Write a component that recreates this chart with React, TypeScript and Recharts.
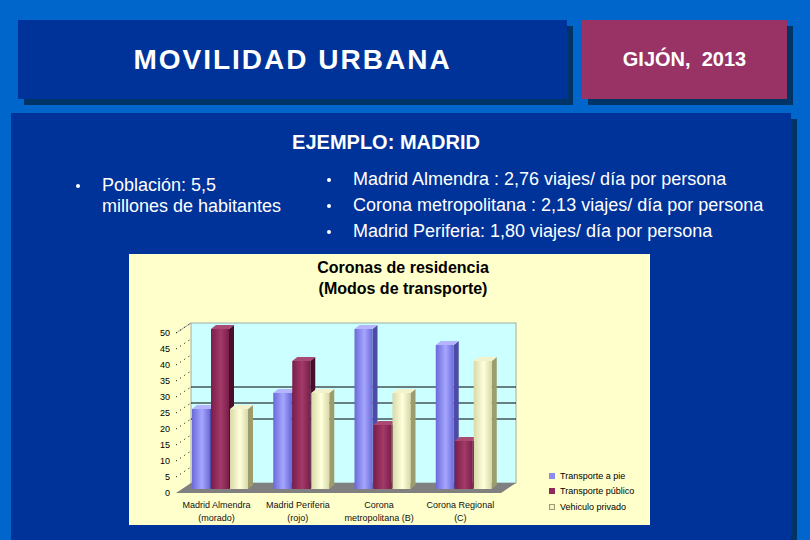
import React from 'react';
import { BarChart, Bar, XAxis, YAxis, ReferenceArea } from 'recharts';

const categories = ['Madrid Almendra', 'Madrid Periferia', 'Corona', 'Corona Regional'];
const categorySubLabels = ['(morado)', '(rojo)', 'metropolitana (B)', '(C)'];
const transportePie = [25, 30, 50, 45];
const transportePublico = [50, 40, 20, 15];
const vehiculoPrivado = [25, 30, 30, 40];
const yTicks = [0, 5, 10, 15, 20, 25, 30, 35, 40, 45, 50];
const backGridValues = [20, 25, 30];
const seriesNames = ['Transporte a pie', 'Transporte público', 'Vehiculo privado'];

const data = categories.map((c, i) => ({
  key: `${c}\n${categorySubLabels[i]}`,
  pie: transportePie[i],
  publico: transportePublico[i],
  privado: vehiculoPrivado[i],
}));

const FONT = '"Liberation Sans", Arial, Helvetica, sans-serif';
const DEPTH_X = 15;
const DEPTH_Y = 10;
const BAR_DX = 5;
const BAR_DY = 4;
const BAR_SHIFT_X = 3;
const BAR_SHIFT_Y = 4;

const seriesStyles = [
  { id: 'gPie', dark: '#6a6ad8', light: '#a6a6ff', side: '#4c4ca6', top: '#b4b4ff', legend: '#8c8cf0' },
  { id: 'gPub', dark: '#7a1e4a', light: '#a33a68', side: '#4a0d2a', top: '#a84a74', legend: '#8f2a58' },
  { id: 'gPri', dark: '#d8d8a8', light: '#ffffdc', side: '#9c9c6c', top: '#f2f2cc', legend: '#f4f4cc' },
];

const makeBarShape = (s: any) => (props: any) => {
  const { x, y, width, height } = props;
  if (height == null || height <= 0) return <g />;
  const X = x + BAR_SHIFT_X;
  const Y = y - BAR_SHIFT_Y;
  const w = width;
  const h = height;
  return (
    <g>
      <polygon
        points={`${X + w},${Y} ${X + w + BAR_DX},${Y - BAR_DY} ${X + w + BAR_DX},${Y + h - BAR_DY} ${X + w},${Y + h}`}
        fill={s.side}
      />
      <polygon
        points={`${X},${Y} ${X + BAR_DX},${Y - BAR_DY} ${X + w + BAR_DX},${Y - BAR_DY} ${X + w},${Y}`}
        fill={s.top}
      />
      <rect x={X} y={Y} width={w} height={h} fill={`url(#${s.id})`} />
    </g>
  );
};

const WallShape = (props: any) => {
  const { x, y, width, height } = props;
  const bx = x + DEPTH_X;
  const by = y - DEPTH_Y;
  const valToY = (v: number) => y + height - (v / 50) * height;
  return (
    <g>
      <rect x={bx} y={by} width={width} height={height} fill="#ccffff" stroke="#8a9a9a" strokeWidth={0.8} />
      <line x1={x} y1={y} x2={bx} y2={by} stroke="#8a9a9a" strokeWidth={0.8} />
      {backGridValues.map((v) => (
        <line key={v} x1={bx} x2={bx + width} y1={valToY(v) - DEPTH_Y} y2={valToY(v) - DEPTH_Y} stroke="#000" strokeWidth={1} />
      ))}
      {yTicks.filter((v) => v > 0).map((v) => (
        <line
          key={'d' + v}
          x1={x}
          y1={valToY(v)}
          x2={bx}
          y2={valToY(v) - DEPTH_Y}
          stroke="#000"
          strokeWidth={1}
          strokeDasharray="1 4"
        />
      ))}
      <polygon
        points={`${x},${y + height} ${x + width},${y + height} ${x + width + DEPTH_X},${y + height - DEPTH_Y} ${bx},${y + height - DEPTH_Y}`}
        fill="#808080"
      />
    </g>
  );
};

const XTick = (props: any) => {
  const { x, y, payload } = props;
  const lines = String(payload.value).split('\n');
  return (
    <g>
      {lines.map((l, i) => (
        <text key={i} x={x} y={y + 7 + i * 13} textAnchor="middle" fontSize={9} fill="#111" fontFamily={FONT}>
          {l}
        </text>
      ))}
    </g>
  );
};

const Bullet = ({ left, top }: { left: number; top: number }) => (
  <div
    style={{
      position: 'absolute', left, top, width: 4, height: 4, borderRadius: 2, background: '#fff',
    }}
  />
);

export default function App() {
  return (
    <div
      style={{
        position: 'absolute',
        left: 0,
        top: 0,
        width: 810,
        height: 540,
        background: '#0066cc',
        overflow: 'hidden',
        fontFamily: FONT,
      }}
    >
      {/* title box */}
      <div style={{ position: 'absolute', left: 24, top: 26, width: 549, height: 79, background: '#003366' }} />
      <div
        style={{
          position: 'absolute', left: 18, top: 20, width: 549, height: 79, background: '#003399',
          display: 'flex', alignItems: 'center', justifyContent: 'center',
          color: '#fff', fontWeight: 'bold', fontSize: 28, letterSpacing: 2,
        }}
      >
        MOVILIDAD URBANA
      </div>
      {/* pink box */}
      <div style={{ position: 'absolute', left: 588, top: 26, width: 205, height: 79, background: '#003366' }} />
      <div
        style={{
          position: 'absolute', left: 582, top: 20, width: 205, height: 79, background: '#993366',
          display: 'flex', alignItems: 'center', justifyContent: 'center',
          color: '#fff', fontWeight: 'bold', fontSize: 20, whiteSpace: 'pre',
        }}
      >
        {'GIJÓN,  2013'}
      </div>
      {/* main panel */}
      <div style={{ position: 'absolute', left: 17, top: 119, width: 780, height: 440, background: '#003366' }} />
      <div style={{ position: 'absolute', left: 11, top: 113, width: 780, height: 440, background: '#003399' }} />

      <div
        style={{
          position: 'absolute', left: 386, top: 131, transform: 'translateX(-50%)',
          color: '#fff', fontWeight: 'bold', fontSize: 20, lineHeight: '22px', whiteSpace: 'nowrap',
        }}
      >
        EJEMPLO: MADRID
      </div>

      {/* left bullet */}
      <Bullet left={76} top={184} />
      <div style={{ position: 'absolute', left: 102, top: 175, color: '#fff', fontSize: 18, lineHeight: '21px', whiteSpace: 'nowrap' }}>
        Población: 5,5
        <br />
        millones de habitantes
      </div>

      {/* right bullets */}
      {[
        'Madrid Almendra : 2,76 viajes/ día por persona',
        'Corona metropolitana : 2,13 viajes/ día por persona',
        'Madrid Periferia: 1,80 viajes/ día por persona',
      ].map((t, i) => (
        <React.Fragment key={i}>
          <Bullet left={327} top={178 + i * 26} />
          <div style={{ position: 'absolute', left: 353, top: 168 + i * 26, color: '#fff', fontSize: 18, lineHeight: '22px', whiteSpace: 'nowrap' }}>
            {t}
          </div>
        </React.Fragment>
      ))}

      {/* chart panel */}
      <div style={{ position: 'absolute', left: 129, top: 254, width: 521, height: 271, background: '#ffffcc' }}>
        <div
          style={{
            position: 'absolute', left: 0, top: 3, width: 548, textAlign: 'center',
            fontWeight: 'bold', fontSize: 16, lineHeight: '21px', color: '#000',
          }}
        >
          Coronas de residencia
          <br />
          (Modos de transporte)
        </div>
        <div style={{ position: 'absolute', left: 0, top: 0 }}>
          <BarChart
            width={521}
            height={271}
            data={data}
            margin={{ top: 79, right: 149, bottom: 2, left: 17 }}
            barSize={18}
            barGap={1}
          >
            <defs>
              {seriesStyles.map((s) => (
                <linearGradient key={s.id} id={s.id} x1="0" y1="0" x2="1" y2="0">
                  <stop offset="0%" stopColor={s.dark} />
                  <stop offset="55%" stopColor={s.light} />
                  <stop offset="100%" stopColor={s.dark} />
                </linearGradient>
              ))}
            </defs>
            <ReferenceArea y1={0} y2={50} shape={WallShape} />
            <XAxis
              dataKey="key"
              axisLine={false}
              tickLine={false}
              interval={0}
              height={30}
              tick={<XTick />}
            />
            <YAxis
              domain={[0, 50]}
              ticks={yTicks}
              axisLine={false}
              tickLine={false}
              width={30}
              tickSize={4}
              tickMargin={2}
              tick={{ fontSize: 9, fill: '#000', fontFamily: FONT }}
            />
            <Bar dataKey="pie" name={seriesNames[0]} isAnimationActive={false} shape={makeBarShape(seriesStyles[0])} />
            <Bar dataKey="publico" name={seriesNames[1]} isAnimationActive={false} shape={makeBarShape(seriesStyles[1])} />
            <Bar dataKey="privado" name={seriesNames[2]} isAnimationActive={false} shape={makeBarShape(seriesStyles[2])} />
          </BarChart>
        </div>
        {/* legend */}
        <div style={{ position: 'absolute', left: 420, top: 214 }}>
          {seriesNames.map((n, i) => (
            <div key={n} style={{ display: 'flex', alignItems: 'center', height: 15.5, fontSize: 9, color: '#000', whiteSpace: 'nowrap' }}>
              <span
                style={{
                  display: 'inline-block', width: 6, height: 6, marginRight: 5,
                  background: seriesStyles[i].legend,
                  boxSizing: 'border-box',
                  border: i === 2 ? '1px solid #9c9c6c' : 'none',
                }}
              />
              {n}
            </div>
          ))}
        </div>
      </div>
    </div>
  );
}
